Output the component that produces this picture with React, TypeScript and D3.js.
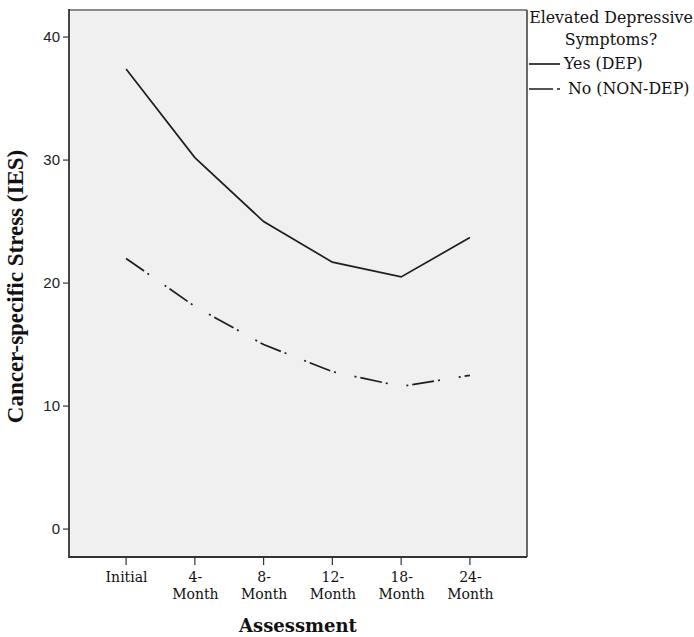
import React from "react";
import * as d3 from "d3";

const categories = ["Initial", "4-Month", "8-Month", "12-Month", "18-Month", "24-Month"];
const tickLines: string[][] = [["Initial"], ["4-", "Month"], ["8-", "Month"], ["12-", "Month"], ["18-", "Month"], ["24-", "Month"]];
const depValues = [37.4, 30.2, 25.0, 21.7, 20.5, 23.7];
const nonDepValues = [22.0, 18.1, 15.0, 12.8, 11.6, 12.5];
const yTicks = [0, 10, 20, 30, 40];
const seriesNames = ["Yes (DEP)", "No (NON-DEP)"];

const W = 694;
const H = 637;
const left = 69;
const right = 527;
const top = 10;
const bottom = 557;
const DASH = "22 4 2 19 2 4";
const serif = "'DejaVu Serif', serif";

export default function App() {
  const x = d3.scalePoint<string>().domain(categories).range([left, right]).padding(0.83);
  const y = d3.scaleLinear().domain([-2.27, 42.2]).range([bottom, top]);
  const line = d3
    .line<number>()
    .x((_, i) => x(categories[i]) as number)
    .y((d) => y(d));

  return (
    <svg width={W} height={H} style={{ position: "absolute", left: 0, top: 0, background: "#fff" }}>
      <rect x={left} y={top} width={right - left} height={bottom - top} fill="#f0f0f0" />
      <line x1={left} x2={right} y1={top} y2={top} stroke="#8a8a8a" strokeWidth={2} />
      <line x1={right} x2={right} y1={top} y2={bottom} stroke="#444" strokeWidth={1.6} />
      <line x1={left} x2={right} y1={bottom} y2={bottom} stroke="#333" strokeWidth={1.8} />
      <line x1={left} x2={left} y1={top - 1} y2={bottom + 1} stroke="#333" strokeWidth={1.8} />

      {yTicks.map((t) => (
        <g key={t}>
          <line x1={left - 6} x2={left} y1={y(t)} y2={y(t)} stroke="#333" strokeWidth={1.2} />
          <text
            x={left - 9}
            y={y(t)}
            dy="0.36em"
            textAnchor="end"
            fontFamily="'Liberation Sans', Arial, sans-serif"
            fontSize={15}
            fill="#222"
          >
            {t}
          </text>
        </g>
      ))}

      {categories.map((c, i) => (
        <g key={c}>
          <line x1={x(c)} x2={x(c)} y1={bottom} y2={bottom + 8} stroke="#333" strokeWidth={1.2} />
          {tickLines[i].map((s, j) => (
            <text
              key={j}
              x={(x(c) as number) + 0.5}
              y={bottom + 25 + j * 16.5}
              textAnchor="middle"
              fontFamily={serif}
              fontSize={14}
              fill="#111"
            >
              {s}
            </text>
          ))}
        </g>
      ))}

      <path d={line(depValues) || ""} fill="none" stroke="#1e1e1e" strokeWidth={1.7} />
      <path d={line(nonDepValues) || ""} fill="none" stroke="#1e1e1e" strokeWidth={1.7} strokeDasharray={DASH} />

      <text
        transform={`translate(23,${(top + bottom) / 2 + 3}) rotate(-90)`}
        textAnchor="middle"
        fontFamily="'Liberation Serif', 'Times New Roman', serif"
        fontWeight="bold"
        fontSize={23}
        fill="#111"
      >
        Cancer-specific Stress (IES)
      </text>
      <text
        x={(left + right) / 2}
        y={632}
        textAnchor="middle"
        fontFamily={serif}
        fontWeight="bold"
        fontSize={18}
        fill="#111"
      >
        Assessment
      </text>

      <text x={611} y={23} textAnchor="middle" fontFamily={serif} fontSize={15.8} fill="#111">
        Elevated Depressive
      </text>
      <text x={611} y={45} textAnchor="middle" fontFamily={serif} fontSize={15.8} fill="#111">
        Symptoms?
      </text>
      <line x1={529} x2={560} y1={64} y2={64} stroke="#1e1e1e" strokeWidth={1.7} />
      <text x={564} y={69} fontFamily={serif} fontSize={15.8} fill="#111">
        {seriesNames[0]}
      </text>
      <line x1={529} x2={561} y1={89} y2={89} stroke="#1e1e1e" strokeWidth={1.7} strokeDasharray="24 4 3 20" />
      <text x={568} y={94} fontFamily={serif} fontSize={15.8} fill="#111">
        {seriesNames[1]}
      </text>
    </svg>
  );
}
